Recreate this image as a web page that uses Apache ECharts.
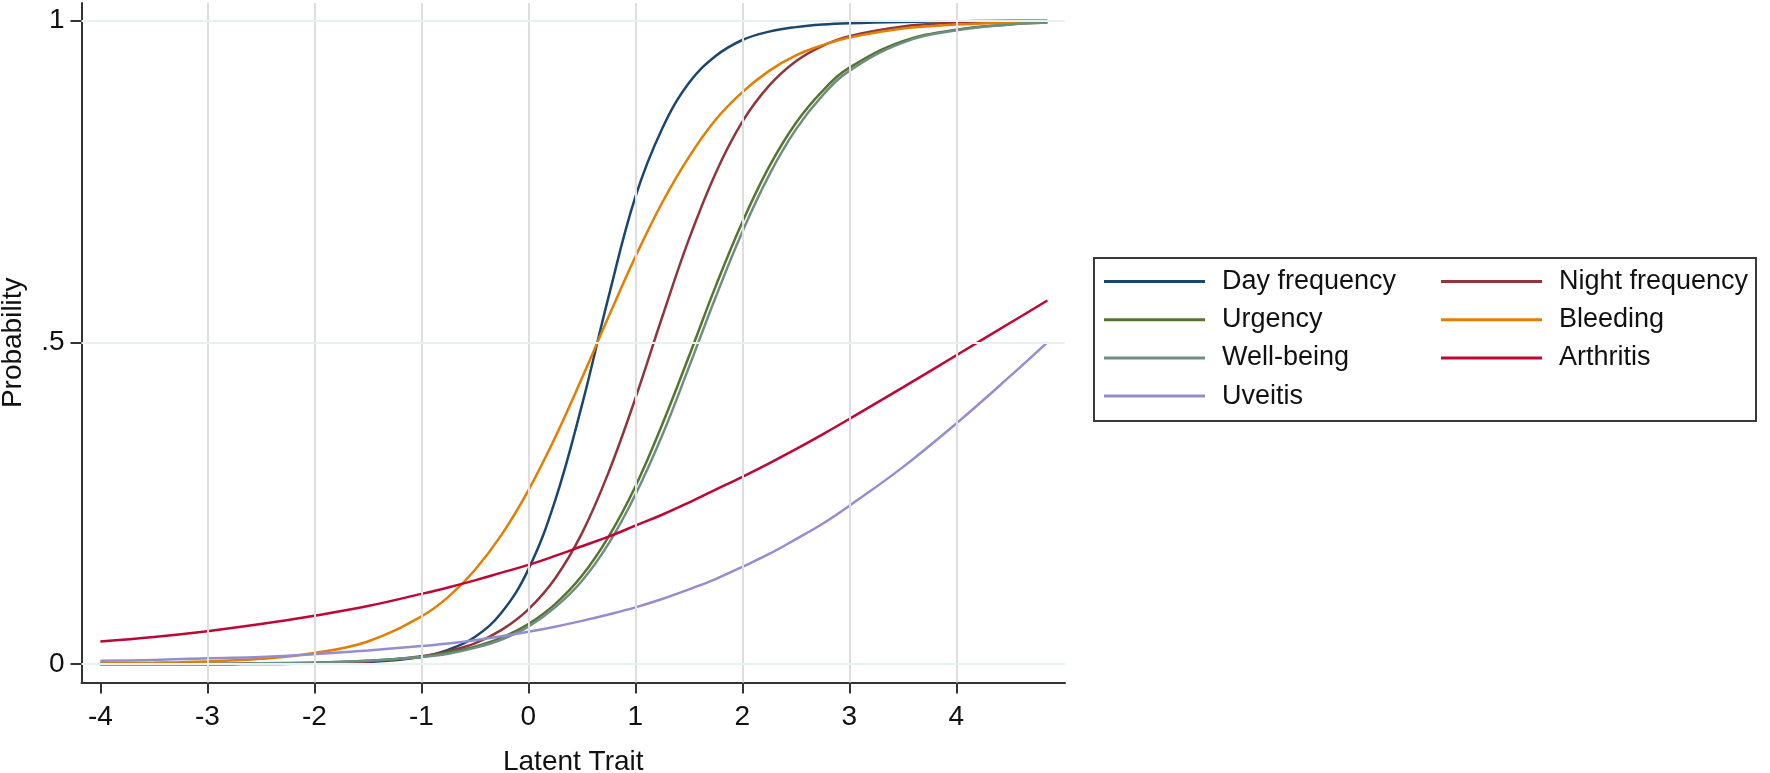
<!DOCTYPE html>
<html>
<head>
<meta charset="utf-8">
<script src="https://cdn.jsdelivr.net/npm/echarts@6/dist/echarts.min.js"></script>
<style>
  html, body { margin: 0; padding: 0; background: #ffffff; }
  #chart { width: 1770px; height: 773px; }
</style>
</head>
<body>
<div id="chart"></div>
<script>
// Latent trait values (x) at which the curves were read
const theta = [-4, -3.5, -3, -2.5, -2, -1.5, -1, -0.75, -0.5, -0.25, 0, 0.25, 0.5, 0.75, 1, 1.25, 1.5, 1.75, 2, 2.25, 2.5, 2.75, 3, 3.5, 4, 4.5, 4.85];

const dayFrequency   = [0.000, 0.000, 0.000, 0.000, 0.001, 0.003, 0.011, 0.022, 0.042, 0.080, 0.147, 0.254, 0.402, 0.571, 0.726, 0.832, 0.903, 0.945, 0.970, 0.983, 0.990, 0.994, 0.996, 0.998, 0.999, 1.000, 1.000];
const nightFrequency = [0.000, 0.000, 0.000, 0.001, 0.002, 0.004, 0.012, 0.020, 0.032, 0.053, 0.085, 0.133, 0.203, 0.298, 0.413, 0.539, 0.660, 0.763, 0.843, 0.899, 0.937, 0.961, 0.976, 0.991, 0.997, 0.999, 0.999];
const urgency        = [0.000, 0.000, 0.000, 0.001, 0.002, 0.005, 0.011, 0.018, 0.027, 0.041, 0.062, 0.093, 0.137, 0.198, 0.276, 0.372, 0.478, 0.587, 0.687, 0.773, 0.841, 0.891, 0.927, 0.968, 0.986, 0.994, 0.997];
const bleeding       = [0.001, 0.002, 0.004, 0.008, 0.017, 0.035, 0.074, 0.104, 0.146, 0.201, 0.270, 0.352, 0.444, 0.540, 0.633, 0.717, 0.788, 0.846, 0.889, 0.922, 0.946, 0.962, 0.974, 0.988, 0.994, 0.997, 0.998];
const wellBeing      = [0.000, 0.000, 0.000, 0.001, 0.002, 0.005, 0.011, 0.016, 0.025, 0.038, 0.058, 0.088, 0.129, 0.187, 0.263, 0.355, 0.461, 0.570, 0.672, 0.760, 0.831, 0.884, 0.922, 0.966, 0.985, 0.994, 0.997];
const arthritis      = [0.035, 0.042, 0.051, 0.062, 0.075, 0.090, 0.109, 0.119, 0.130, 0.142, 0.154, 0.168, 0.183, 0.198, 0.215, 0.232, 0.251, 0.271, 0.291, 0.312, 0.334, 0.357, 0.381, 0.430, 0.480, 0.530, 0.565];
const uveitis        = [0.005, 0.006, 0.009, 0.011, 0.015, 0.021, 0.028, 0.032, 0.037, 0.043, 0.050, 0.058, 0.067, 0.077, 0.088, 0.101, 0.116, 0.132, 0.151, 0.171, 0.194, 0.218, 0.246, 0.306, 0.374, 0.447, 0.500];

const seriesNames  = ['Day frequency', 'Night frequency', 'Urgency', 'Bleeding', 'Well-being', 'Arthritis', 'Uveitis'];
const seriesValues = [dayFrequency, nightFrequency, urgency, bleeding, wellBeing, arthritis, uveitis];
const seriesColors = ['#1a476f', '#90353b', '#55752f', '#e37e00', '#6e8e84', '#c10534', '#938dd2'];

const legendLeftCol  = ['Day frequency', 'Urgency', 'Well-being', 'Uveitis'];
const legendRightCol = ['Night frequency', 'Bleeding', 'Arthritis'];

const xTickValues = [-4, -3, -2, -1, 0, 1, 2, 3, 4];
const xGridValues = [-3, -2, -1, 0, 1, 2, 3, 4];
const yTickValues = [0, 0.5, 1];
const yTickLabels = ['0', '.5', '1'];

const FONT = "'Liberation Sans', Arial, sans-serif";
const chart = echarts.init(document.getElementById('chart'), null, { renderer: 'canvas' });

const curveSeries = seriesNames.map((name, k) => ({
  name: name,
  type: 'line',
  data: theta.map((t, i) => [t, seriesValues[k][i]]),
  showSymbol: false,
  symbol: 'none',
  smooth: 0.4,
  color: seriesColors[k],
  lineStyle: { width: 2.5, color: seriesColors[k] },
  z: 3,
  silent: true
}));

const gridSeries = {
  name: '__grid',
  type: 'line',
  data: [],
  z: 1,
  silent: true,
  markLine: {
    silent: true,
    symbol: ['none', 'none'],
    label: { show: false },
    animation: false,
    data: [
      ...xGridValues.map(v => ({ xAxis: v, lineStyle: { color: '#dedede', width: 2, type: 'solid' } })),
      ...yTickValues.map(v => ({ yAxis: v, lineStyle: { color: '#e8f1f2', width: 2, type: 'solid' } }))
    ]
  }
};

const legendCommon = {
  orient: 'vertical',
  icon: 'rect',
  itemWidth: 101,
  itemHeight: 3,
  itemGap: 11.2,
  padding: 0,
  textStyle: { fontSize: 27, color: '#111', fontFamily: FONT, padding: [0, 0, 0, 12] },
  selectedMode: false
};

chart.setOption({
  animation: false,
  backgroundColor: '#ffffff',
  grid: { left: 81.5, top: 3, width: 983.5, height: 679.5, containLabel: false, outerBoundsMode: 'none' },
  xAxis: {
    type: 'value',
    min: -4.176,
    max: 5.015,
    name: 'Latent Trait',
    nameLocation: 'middle',
    nameGap: 66,
    nameTextStyle: { fontSize: 28, color: '#111', fontFamily: FONT },
    axisLine: { show: true, onZero: false, lineStyle: { color: '#333', width: 2 } },
    axisTick: { show: true, length: 11, customValues: xTickValues, lineStyle: { color: '#333', width: 2 } },
    axisLabel: { customValues: xTickValues, margin: 21, fontSize: 28, color: '#111', fontFamily: FONT },
    splitLine: { show: false }
  },
  yAxis: {
    type: 'value',
    min: -0.0288,
    max: 1.0275,
    name: 'Probability',
    nameLocation: 'middle',
    nameGap: 54,
    nameTextStyle: { fontSize: 28, color: '#111', fontFamily: FONT },
    axisLine: { show: true, onZero: false, lineStyle: { color: '#333', width: 2 } },
    axisTick: { show: true, length: 11, customValues: yTickValues, lineStyle: { color: '#333', width: 2 } },
    axisLabel: {
      customValues: yTickValues, margin: 17, fontSize: 28, color: '#111', fontFamily: FONT,
      formatter: v => { const i = yTickValues.findIndex(t => Math.abs(t - v) < 1e-9); return i >= 0 ? yTickLabels[i] : ''; }
    },
    splitLine: { show: false }
  },
  legend: [
    Object.assign({}, legendCommon, { left: 1104, top: 268, data: legendLeftCol }),
    Object.assign({}, legendCommon, { left: 1441, top: 268, data: legendRightCol })
  ],
  graphic: [{
    type: 'rect',
    z: 0,
    shape: { x: 1094, y: 258, width: 662, height: 163 },
    style: { fill: 'rgba(0,0,0,0)', stroke: '#3a3a3a', lineWidth: 2 }
  }],
  series: [gridSeries, ...curveSeries]
});
</script>
</body>
</html>
